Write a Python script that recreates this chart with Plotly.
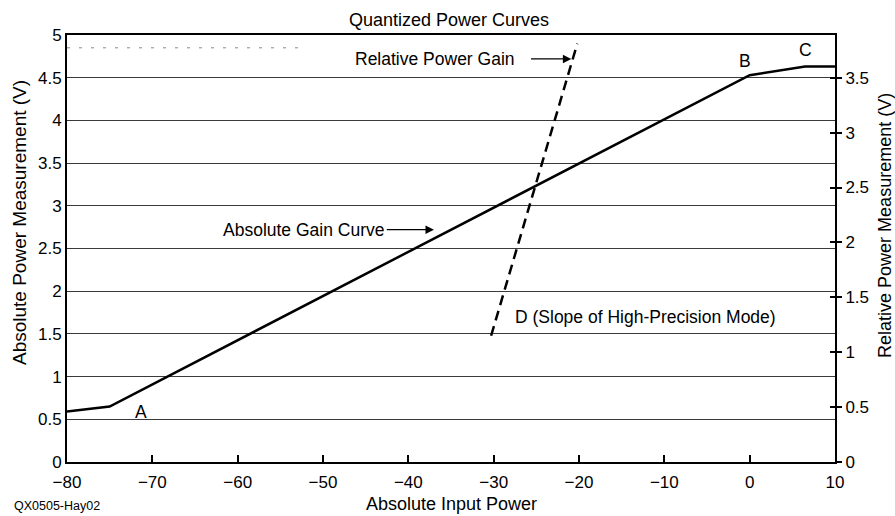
import plotly.graph_objects as go

# ---- data ----
abs_input_power = [-80, -75, 0, 6.5, 10]
abs_measurement = [0.59, 0.65, 4.53, 4.63, 4.63]

rel_input_power = [-30.3, -20.2]
rel_measurement = [1.15, 3.81]

x_ticks = [-80, -70, -60, -50, -40, -30, -20, -10, 0, 10]
y_left_ticks = [0, 0.5, 1, 1.5, 2, 2.5, 3, 3.5, 4, 4.5, 5]
y_right_ticks = [0, 0.5, 1, 1.5, 2, 2.5, 3, 3.5]

FONT = "Liberation Sans, Arial, sans-serif"
FS = 17
FA = 17.5

fig = go.Figure()
fig.add_trace(go.Scatter(x=abs_input_power, y=abs_measurement, mode="lines",
                         line=dict(color="black", width=2.5), yaxis="y",
                         showlegend=False, hoverinfo="skip"))
fig.add_trace(go.Scatter(x=rel_input_power, y=rel_measurement, mode="lines",
                         line=dict(color="black", width=2.5, dash="10px,6px"),
                         yaxis="y2", showlegend=False, hoverinfo="skip"))
fig.add_trace(go.Scatter(x=[None], y=[None], yaxis="y3", showlegend=False,
                         hoverinfo="skip"))

# faint dotted artefact line near the top
fig.add_shape(type="line", xref="x", yref="y", x0=-80, x1=-52, y0=4.85, y1=4.85,
              line=dict(color="#888", width=1, dash="3px,9px"))

ann = []
def txt(x, y, t, xanchor="center", size=FA, xref="x", yref="y", angle=0):
    ann.append(dict(x=x, y=y, text=t, showarrow=False, xanchor=xanchor,
                    yanchor="middle", xref=xref, yref=yref, textangle=angle,
                    font=dict(family=FONT, size=size, color="black")))

txt(-71.3, 0.58, "A")
txt(-0.5, 4.70, "B")
txt(6.5, 4.82, "C")
txt(-46.5, 4.72, "Relative Power Gain", xanchor="left")
txt(-62, 2.72, "Absolute Gain Curve", xanchor="left")
txt(-27.7, 1.70, "D (Slope of High-Precision Mode)", xanchor="left")

ann.append(dict(x=-20.9, y=4.72, ax=-25.8, ay=4.72, axref="x", ayref="y",
                xref="x", yref="y", text="", showarrow=True, arrowhead=2,
                arrowsize=1.3, arrowwidth=1.3, arrowcolor="black"))
ann.append(dict(x=-37, y=2.72, ax=-42.7, ay=2.72, axref="x", ayref="y",
                xref="x", yref="y", text="", showarrow=True, arrowhead=2,
                arrowsize=1.3, arrowwidth=1.3, arrowcolor="black"))

txt(0.497, 1.035, "Quantized Power Curves", size=18, xref="paper", yref="paper")
txt(0.500, -0.098, "Absolute Input Power", size=18, xref="paper", yref="paper")
txt(-0.061, 0.560, "Absolute Power Measurement (V)", size=19, xref="paper", yref="paper", angle=-90)
txt(1.065, 0.555, "Relative Power Measurement (V)", size=18, xref="paper", yref="paper", angle=-90)
txt(-0.071, -0.104, "QX0505-Hay02", xanchor="left", size=12.5, xref="paper", yref="paper")

fig.update_layout(
    width=895, height=516,
    margin=dict(l=67, r=60, t=35, b=54, autoexpand=False),
    paper_bgcolor="white", plot_bgcolor="white",
    font=dict(family=FONT, size=FS, color="black"),
    annotations=ann,
    xaxis=dict(range=[-80, 10], tickvals=x_ticks, ticks="inside", ticklen=7,
               tickwidth=1.5, tickcolor="black", showline=True, linecolor="black",
               linewidth=2, mirror=True, showgrid=False, zeroline=False,
               automargin=False, ticklabelstandoff=4,
               tickfont=dict(family=FONT, size=FS)),
    yaxis=dict(range=[0, 5], tickvals=y_left_ticks, ticks="", showline=True,
               linecolor="black", linewidth=2, showgrid=True, gridcolor="#3a3a3a",
               gridwidth=1, zeroline=False, automargin=False,
               tickfont=dict(family=FONT, size=FS)),
    yaxis2=dict(range=[0, 3.5 / 0.9], tickvals=y_right_ticks, overlaying="y",
                side="right", ticks="outside", ticklen=5, tickwidth=1.5,
                tickcolor="black", showline=True, linecolor="black", linewidth=2,
                showgrid=False, zeroline=False, automargin=False,
                tickfont=dict(family=FONT, size=FS)),
    yaxis3=dict(range=[0, 3.5 / 0.9], tickvals=y_right_ticks, overlaying="y",
                side="right", ticks="inside", ticklen=5, tickwidth=1.5,
                tickcolor="black", showline=False, showgrid=False, zeroline=False,
                showticklabels=False, automargin=False),
)

# remove the browser's default 8px body margin so the figure fills the window
fig.write_html("out.html",
               config={"displayModeBar": False},
               post_script="document.body.style.margin='0';"
                           "document.documentElement.style.overflow='hidden';")
